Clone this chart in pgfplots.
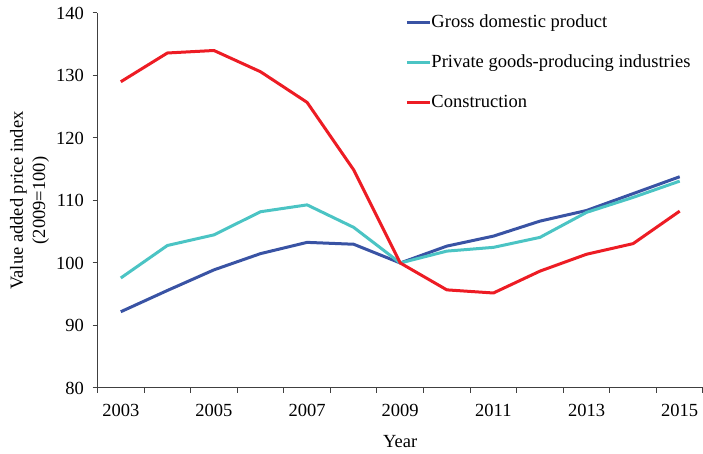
\documentclass[border=0pt]{standalone}
\usepackage{fontspec}
\setmainfont{Liberation Serif}
\usepackage{pgfplots}
\pgfplotsset{compat=1.18}
\usetikzlibrary{calc}
\definecolor{gdpblue}{HTML}{3953A4}
\definecolor{privteal}{HTML}{4BC4C4}
\definecolor{consred}{HTML}{ED1C24}
\newcommand\chartfont{\fontsize{9.25}{11.1}\selectfont}

\pgfplotstableread{
year gdp priv cons
2003 92.2 97.6 129.0
2004 95.6 102.8 133.6
2005 98.9 104.5 134.0
2006 101.5 108.2 130.6
2007 103.3 109.3 125.7
2008 103.0 105.7 114.9
2009 100.0 100.0 100.0
2010 102.7 101.9 95.7
2011 104.3 102.5 95.2
2012 106.7 104.1 98.7
2013 108.4 108.1 101.4
2014 111.1 110.5 103.1
2015 113.8 113.1 108.3
}\pricedata

\begin{document}
\chartfont
\begin{tikzpicture}
\begin{axis}[
  scale only axis,
  width=302.75pt,
  height=187.5pt,
  xmin=2002.5, xmax=2015.5,
  ymin=80, ymax=140,
  axis x line*=bottom,
  axis y line*=left,
  axis line style={-, black!75, line width=0.5pt},
  xtick={2003,2005,2007,2009,2011,2013,2015},
  xticklabels={2003,2005,2007,2009,2011,2013,2015},
  minor xtick={2002.5,2003.5,...,2015.5},
  ytick={80,90,...,140},
  tick align=outside,
  major x tick style={draw=none},
  minor tick length=2.5pt,
  major tick length=2.5pt,
  every tick/.style={black!75, line width=0.5pt},
  y tick style={black!75},
  tick label style={font=\chartfont},
  /pgf/number format/assume math mode=true,
  /pgf/number format/1000 sep={},
  xticklabel style={yshift=-2.5pt},
  yticklabel style={xshift=-1pt},
  xlabel={Year},
  ylabel={Value added price index\\(2009=100)},
  label style={font=\chartfont},
  xlabel style={at={(axis description cs:0.5,0)}, anchor=center, yshift=-27pt},
  ylabel style={at={(axis description cs:0,0.5)}, anchor=center, yshift=34pt, align=center},
  legend style={
    draw=none, fill=none, font=\chartfont,
    at={(axis description cs:0.508,1.0)}, anchor=north west,
    inner sep=0pt, row sep=11pt,
    nodes={inner sep=0pt, text height=7pt, text depth=2pt},
    /tikz/every even column/.append style={column sep=0pt},
  },
  legend cell align=left,
  legend image code/.code={\draw[#1] (0pt,0pt) -- (11.5pt,0pt);},
  every axis plot/.append style={line width=1.5pt, line join=round},
  clip=false,
]
\addplot[gdpblue, mark=none] table[x=year, y=gdp] {\pricedata};
\addlegendentry{Gross domestic product}
\addplot[privteal, mark=none] table[x=year, y=priv] {\pricedata};
\addlegendentry{Private goods-producing industries}
\addplot[consred, mark=none] table[x=year, y=cons] {\pricedata};
\addlegendentry{Construction}
\end{axis}
\pgfresetboundingbox
\path[use as bounding box] ($(current axis.south west)+(-48.75pt,-33pt)$) rectangle ($(current axis.north east)+(0pt,6.5pt)$);
\end{tikzpicture}
\end{document}
